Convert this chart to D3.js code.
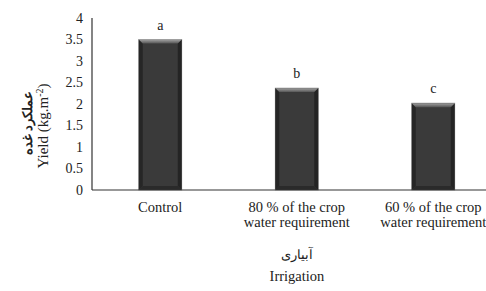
<!DOCTYPE html>
<html>
<head>
<meta charset="utf-8">
<script src="https://cdn.jsdelivr.net/npm/d3@7"></script>
<style>
  body { margin: 0; background: #fff; }
  svg text { font-family: "Times New Roman", "Liberation Serif", Tinos, "DejaVu Serif", serif; fill: #222; }
</style>
</head>
<body>
<svg width="486" height="291"></svg>
<script>
const categories = ['Control', '80 % of the crop|water requirement', '60 % of the crop|water requirement'];
const yields = [3.5, 2.37, 2.02];
const letters = ['a', 'b', 'c'];
const yTicks = [0, 0.5, 1, 1.5, 2, 2.5, 3, 3.5, 4];

const svg = d3.select('svg');
const plotLeft = 92, plotBottom = 190, plotTop = 18;
const serif = '"Liberation Serif", "Times New Roman", serif';

const x = d3.scaleBand()
  .domain(categories)
  .range([plotLeft, 501.5])
  .paddingInner(0.685)
  .paddingOuter(0.3425);

const y = d3.scaleLinear()
  .domain([0, 4])
  .range([plotBottom, plotTop]);

// gradients for the bevel look
const defs = svg.append('defs');
const topGrad = defs.append('linearGradient')
  .attr('id', 'topbev').attr('x1', '0%').attr('x2', '0%').attr('y1', '0%').attr('y2', '100%');
topGrad.append('stop').attr('offset', '0%').attr('stop-color', '#9a9a9a');
topGrad.append('stop').attr('offset', '100%').attr('stop-color', '#555');

// y axis labels (no tick marks)
svg.append('g')
  .selectAll('text')
  .data(yTicks)
  .enter().append('text')
  .attr('x', 83)
  .attr('y', d => y(d) + 4.5)
  .attr('text-anchor', 'end')
  .attr('font-family', serif)
  .attr('font-size', 14)
  .text(d => d);

const bars = svg.append('g')
  .selectAll('g')
  .data(yields)
  .enter().append('g');

const bw = x.bandwidth();
const bev = 4;

bars.append('rect')
  .attr('x', (d, i) => x(categories[i]))
  .attr('y', d => y(d))
  .attr('width', bw)
  .attr('height', d => plotBottom - y(d))
  .attr('fill', '#3a3a3a')
  .attr('stroke', '#a0a0a0')
  .attr('stroke-width', 0.8);

// left / right / bottom / top bevels
bars.append('path')
  .attr('fill', '#262626')
  .attr('d', (d, i) => {
    const x0 = x(categories[i]), y0 = y(d);
    return `M${x0},${y0}L${x0 + bev},${y0 + bev}L${x0 + bev},${plotBottom - bev}L${x0},${plotBottom}Z`;
  });
bars.append('path')
  .attr('fill', '#242424')
  .attr('d', (d, i) => {
    const x1 = x(categories[i]) + bw, y0 = y(d);
    return `M${x1},${y0}L${x1 - bev},${y0 + bev}L${x1 - bev},${plotBottom - bev}L${x1},${plotBottom}Z`;
  });
bars.append('path')
  .attr('fill', '#2a2a2a')
  .attr('d', (d, i) => {
    const x0 = x(categories[i]), x1 = x0 + bw;
    return `M${x0},${plotBottom}L${x0 + bev},${plotBottom - bev}L${x1 - bev},${plotBottom - bev}L${x1},${plotBottom}Z`;
  });
bars.append('path')
  .attr('fill', 'url(#topbev)')
  .attr('d', (d, i) => {
    const x0 = x(categories[i]), x1 = x0 + bw, y0 = y(d);
    return `M${x0 + 0.5},${y0 + 0.5}L${x1 - 0.5},${y0 + 0.5}L${x1 - bev},${y0 + bev}L${x0 + bev},${y0 + bev}Z`;
  });

// significance letters
bars.append('text')
  .attr('x', (d, i) => x(categories[i]) + bw / 2)
  .attr('y', d => y(d) - 10)
  .attr('text-anchor', 'middle')
  .attr('font-family', serif)
  .attr('font-size', 14)
  .text((d, i) => letters[i]);

// axes lines
svg.append('line')
  .attr('x1', plotLeft).attr('x2', plotLeft)
  .attr('y1', y(4)).attr('y2', plotBottom)
  .attr('stroke', '#333').attr('stroke-width', 1.2);
svg.append('line')
  .attr('x1', plotLeft).attr('x2', 486)
  .attr('y1', plotBottom).attr('y2', plotBottom)
  .attr('stroke', '#333').attr('stroke-width', 1.2);

// category labels
const catLabels = svg.append('g')
  .selectAll('text')
  .data(categories)
  .enter().append('text')
  .attr('text-anchor', 'middle')
  .attr('font-family', serif)
  .attr('font-size', 14.5);
catLabels.each(function (d) {
  const parts = d.split('|');
  const t = d3.select(this);
  parts.forEach((p, j) => {
    t.append('tspan')
      .attr('x', x(d) + bw / 2)
      .attr('y', 212 + j * 15)
      .text(p);
  });
});

// x axis titles
svg.append('text')
  .attr('x', 297).attr('y', 259)
  .attr('text-anchor', 'middle')
  .attr('font-family', serif)
  .attr('font-size', 13)
  .text('آبیاری');
svg.append('text')
  .attr('x', 297).attr('y', 281)
  .attr('text-anchor', 'middle')
  .attr('font-family', serif)
  .attr('font-size', 14.5)
  .text('Irrigation');

// y axis titles
svg.append('text')
  .attr('transform', 'translate(48,126) rotate(-90)')
  .attr('text-anchor', 'middle')
  .attr('font-family', serif)
  .attr('font-size', 15)
  .html('Yield (kg.m<tspan dy="-5" font-size="10">-2</tspan><tspan dy="5">)</tspan>');
svg.append('text')
  .attr('transform', 'translate(32,123) rotate(-90)')
  .attr('text-anchor', 'middle')
  .attr('font-family', serif)
  .attr('font-size', 13)
  .attr('font-weight', 'bold')
  .text('عملکرد غده');
</script>
</body>
</html>
